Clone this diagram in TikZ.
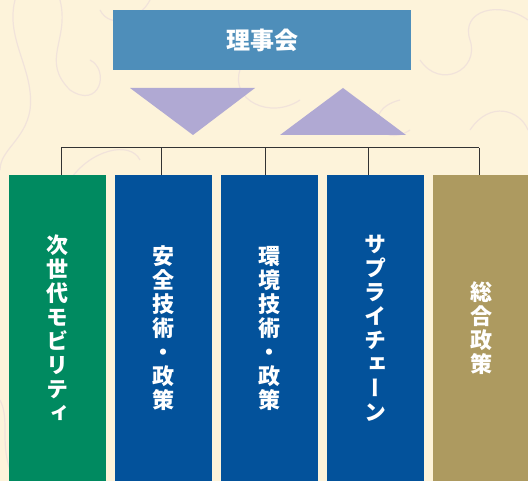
\documentclass[tikz,border=0pt]{standalone}
\usepackage{fontspec}
\newfontfamily\cjk{Noto Sans CJK JP}[RawFeature=+vert]
\definecolor{bgc}{HTML}{FDF3DA}
\definecolor{swirl}{HTML}{F1E3DA}
\definecolor{topc}{HTML}{4E8EBA}
\definecolor{tric}{HTML}{B0A9D3}
\definecolor{greenc}{HTML}{008A60}
\definecolor{bluec}{HTML}{03529B}
\definecolor{goldc}{HTML}{AD9A60}
\definecolor{linec}{HTML}{333333}
\tikzset{
  topbox/.style={fill=topc, text=white, minimum width=298pt, minimum height=60pt, inner sep=0pt,
    font=\cjk\bfseries\fontsize{24}{26}\selectfont},
  colbox/.style={minimum width=97pt, minimum height=306pt, inner sep=0pt, text=white, align=center,
    font=\cjk\bfseries\fontsize{22}{24}\selectfont},
  conn/.style={draw=linec, line width=1pt},
  tri/.style={fill=tric},
  sw/.style={draw=swirl, line width=1.2pt}
}
\begin{document}
\begin{tikzpicture}[x=1pt,y=-1pt]
\fill[bgc] (0,0) rectangle (528,481);
\useasboundingbox (0,0) rectangle (528,481);
% faint background swirls
\draw[sw] (15,0) .. controls (5,40) and (35,70) .. (30,110) .. controls (25,140) and (0,150) .. (0,170);
\draw[sw] (60,0) .. controls (70,40) and (40,60) .. (70,90) .. controls (100,110) and (110,70) .. (90,60);
\draw[sw] (70,180) .. controls (90,150) and (130,140) .. (140,160);
\draw[sw] (150,0) .. controls (140,20) and (110,30) .. (100,10);
\draw[sw] (420,60) .. controls (440,90) and (480,70) .. (470,40) .. controls (460,10) and (500,0) .. (528,20);
\draw[sw] (470,130) .. controls (490,100) and (520,110) .. (528,130);
\draw[sw] (240,70) .. controls (230,100) and (270,120) .. (300,100);
\draw[sw] (410,130) .. controls (380,150) and (360,110) .. (400,100);
\draw[sw] (10,470) .. controls (0,440) and (10,420) .. (0,400);
% top box
\node[topbox] (board) at (262,40) {理事会};
% triangles
\fill[tri] (130,88) -- (255,88) -- (193,135) -- cycle;
\fill[tri] (343,88) -- (406,135) -- (280,135) -- cycle;
% columns
\node[colbox, fill=greenc] (c1) at (57.5,328) {次\\世\\代\\モ\\ビ\\リ\\テ\\ィ};
\node[colbox, fill=bluec] (c2) at (163.5,328) {安\\全\\技\\術\\・\\政\\策};
\node[colbox, fill=bluec] (c3) at (269.5,328) {環\\境\\技\\術\\・\\政\\策};
\node[colbox, fill=bluec] (c4) at (375.5,328) {サ\\プ\\ラ\\イ\\チ\\ェ\\ー\\ン};
\node[colbox, fill=goldc] (c5) at (481.5,328) {総\\合\\政\\策};
% connectors
\coordinate (t1) at (61,148);
\coordinate (t2) at (161,148);
\coordinate (t3) at (265,148);
\coordinate (t4) at (368,148);
\coordinate (t5) at (479,148);
\draw[conn] (t1) -- (t5);
\draw[conn] (t1) -- (t1 |- c1.north);
\draw[conn] (t2) -- (t2 |- c2.north);
\draw[conn] (t3) -- (t3 |- c3.north);
\draw[conn] (t4) -- (t4 |- c4.north);
\draw[conn] (t5) -- (t5 |- c5.north);
\end{tikzpicture}
\end{document}
